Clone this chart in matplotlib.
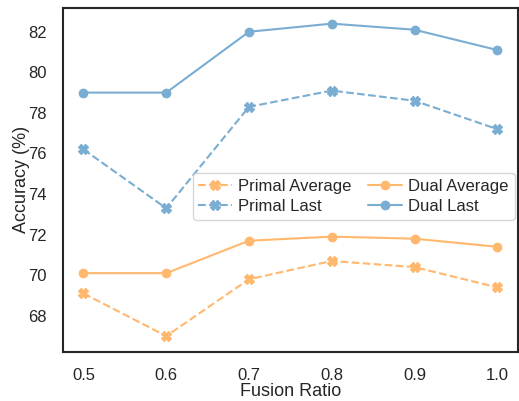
import matplotlib
matplotlib.use("Agg")
import matplotlib.pyplot as plt
import seaborn as sns

ratios = [0.5, 0.6, 0.7, 0.8, 0.9, 1.0]
primal_avg = [69.1, 67.0, 69.8, 70.7, 70.4, 69.4]
primal_last = [76.2, 73.3, 78.3, 79.1, 78.6, 77.2]
dual_avg = [70.1, 70.1, 71.7, 71.9, 71.8, 71.4]
dual_last = [79.0, 79.0, 82.0, 82.4, 82.1, 81.1]

orange = "#ffb86e"
blue = "#7aadd2"

sns.set_style("white")
plt.rcParams["font.family"] = ["Liberation Sans", "DejaVu Sans"]

fig = plt.figure(figsize=(5.19, 4.01), dpi=100)
ax = fig.add_axes([0.121, 0.123, 0.877, 0.857])

ax.plot(ratios, primal_avg, color=orange, linestyle="--", marker="X", markersize=7,
        linewidth=1.5, label="Primal Average")
ax.plot(ratios, primal_last, color=blue, linestyle="--", marker="X", markersize=7,
        linewidth=1.5, label="Primal Last")
ax.plot(ratios, dual_avg, color=orange, linestyle="-", marker="o", markersize=6,
        linewidth=1.5, label="Dual Average")
ax.plot(ratios, dual_last, color=blue, linestyle="-", marker="o", markersize=6,
        linewidth=1.5, label="Dual Last")

ax.set_xticks(ratios)
ax.set_yticks([68, 70, 72, 74, 76, 78, 80, 82])
ax.tick_params(labelsize=12, pad=8)
ax.set_xlabel("Fusion Ratio", fontsize=13, labelpad=0)
ax.set_ylabel("Accuracy (%)", fontsize=13, labelpad=-1)

for s in ax.spines.values():
    s.set_color("#262626")
    s.set_linewidth(1.5)

ax.legend(ncol=2, fontsize=12, loc="center right", bbox_to_anchor=(1.0, 0.452),
          borderaxespad=0.2, handlelength=2.0, columnspacing=1.0, handletextpad=0.4,
          borderpad=0.35, labelspacing=0.3, framealpha=0.8)

fig.savefig("out.png", dpi=100)
